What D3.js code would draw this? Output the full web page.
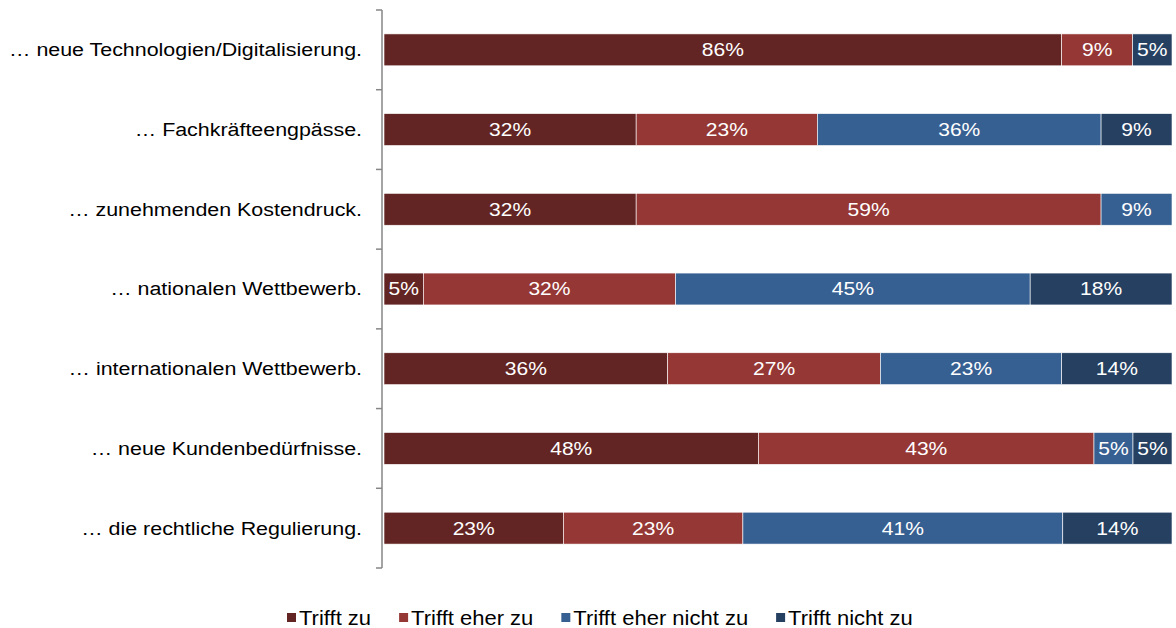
<!DOCTYPE html>
<html>
<head>
<meta charset="utf-8">
<script src="https://cdn.jsdelivr.net/npm/d3@7"></script>
<style>
  html, body { margin: 0; padding: 0; background: #fff; }
  svg { display: block; font-family: "Liberation Sans", Arial, sans-serif; }
</style>
</head>
<body>
<svg id="chart" width="1176" height="628"></svg>
<script>
// Survey statements (row labels, top to bottom)
const categories = [
  "… neue Technologien/Digitalisierung.",
  "… Fachkräfteengpässe.",
  "… zunehmenden Kostendruck.",
  "… nationalen Wettbewerb.",
  "… internationalen Wettbewerb.",
  "… neue Kundenbedürfnisse.",
  "… die rechtliche Regulierung."
];

// Answer shares in percent, one array per answer option
const triffZu          = [86, 32, 32,  5, 36, 48, 23];
const triffEherZu      = [ 9, 23, 59, 32, 27, 43, 23];
const triffEherNichtZu = [ 0, 36,  9, 45, 23,  5, 41];
const triffNichtZu     = [ 5,  9,  0, 18, 14,  5, 14];

const seriesNames = ["Trifft zu", "Trifft eher zu", "Trifft eher nicht zu", "Trifft nicht zu"];
const seriesColors = ["#632523", "#953735", "#376092", "#254061"];

const seriesValues = [triffZu, triffEherZu, triffEherNichtZu, triffNichtZu];
const rows = categories.map((c, i) => {
  const r = { category: c };
  seriesNames.forEach((s, k) => { r[s] = seriesValues[k][i]; });
  return r;
});

const svg = d3.select("#chart");
const plotLeft = 384, plotRight = 1172, plotTop = 10, plotBottom = 568;

// Text with a slightly wide letter shape
function wideText(parent, x, y, str, size, sx, anchor, fill) {
  return parent.append("text")
    .attr("transform", `translate(${x},${y}) scale(${sx},1)`)
    .attr("dy", "0.36em")
    .attr("text-anchor", anchor)
    .attr("font-size", size)
    .attr("fill", fill)
    .text(str);
}

const x = d3.scaleLinear().domain([0, 1]).range([plotLeft, plotRight]);
const y = d3.scaleBand().domain(categories).range([plotTop, plotBottom]).padding(0);
const barH = y.bandwidth() * 0.4;
const barOff = (y.bandwidth() - barH) / 2;

// 100 % stacked layout
const stack = d3.stack().keys(seriesNames).offset(d3.stackOffsetExpand);
const layers = stack(rows);

const barsG = svg.append("g");
const valuesG = svg.append("g");
layers.forEach((layer, k) => {
  const lg = barsG.append("g").attr("fill", seriesColors[k]);
  layer.forEach((d, i) => {
    const val = rows[i][seriesNames[k]];
    if (!val) return;
    const x0 = x(d[0]), x1 = x(d[1]);
    const yy = y(categories[i]) + barOff;
    lg.append("rect")
      .attr("x", x0).attr("y", yy)
      .attr("width", x1 - x0).attr("height", barH)
      .attr("stroke", "#ffffff").attr("stroke-width", 0.6);
    wideText(valuesG, (x0 + x1) / 2, yy + barH / 2, val + "%", 18, 1.17, "middle", "#ffffff");
  });
});

// Category axis: line with outward ticks at band boundaries
const axisG = svg.append("g").attr("stroke", "#868686").attr("stroke-width", 1.5);
axisG.append("line")
  .attr("x1", plotLeft - 2).attr("x2", plotLeft - 2)
  .attr("y1", plotTop).attr("y2", plotBottom);
const boundaries = categories.map(c => y(c)).concat([plotBottom]);
boundaries.forEach(b => {
  axisG.append("line")
    .attr("x1", plotLeft - 8).attr("x2", plotLeft - 2)
    .attr("y1", b).attr("y2", b);
});

// Row labels
categories.forEach(c => {
  wideText(svg, 362, y(c) + y.bandwidth() / 2, c, 18, 1.19, "end", "#000");
});

// Legend
const legend = svg.append("g").attr("transform", "translate(287,618)");
const legSx = 1.1;
let lx = 0;
seriesNames.forEach((name, k) => {
  const item = legend.append("g").attr("transform", `translate(${lx},0)`);
  item.append("rect")
    .attr("x", 0).attr("y", -5).attr("width", 9).attr("height", 9)
    .attr("fill", seriesColors[k]);
  const t = wideText(item, 12, 0, name, 20, legSx, "start", "#000");
  lx += 12 + t.node().getComputedTextLength() * legSx + 28;
});
</script>
</body>
</html>
